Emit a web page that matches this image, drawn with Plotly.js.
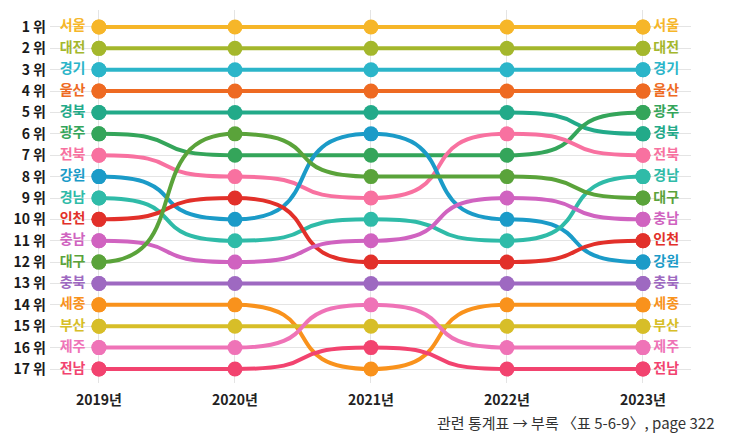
<!DOCTYPE html>
<html><head><meta charset="utf-8">
<script src="https://cdn.plot.ly/plotly-3.0.1.min.js"></script>
<style>html,body{margin:0;padding:0;background:#fff}#chart{width:731px;height:439px}</style>
</head><body><div id="chart"></div>
<script>
const years = [2019, 2020, 2021, 2022, 2023];
const yearLabels = ['2019년', '2020년', '2021년', '2022년', '2023년'];
const rankVals = [1,2,3,4,5,6,7,8,9,10,11,12,13,14,15,16,17];
const rankLabels = ['1 위','2 위','3 위','4 위','5 위','6 위','7 위','8 위','9 위','10 위','11 위','12 위','13 위','14 위','15 위','16 위','17 위'];
const regions = ['서울','대전','경기','울산','경북','광주','전북','강원','경남','인천','충남','대구','충북','세종','부산','제주','전남'];
const colors = ['#F6B629','#A4B72C','#2BB5C9','#EE6A22','#22AA89','#34A55A','#F871A0','#1B9BC8','#2FBBA8','#E2302A','#D063C0','#5AA33A','#9E69C1','#F9921C','#D7BE28','#EF73B7','#F2436F'];
const rank2019 = [1,2,3,4,5,6,7,8,9,10,11,12,13,14,15,16,17];
const rank2020 = [1,2,3,4,5,7,8,10,11,9,12,6,13,14,15,16,17];
const rank2021 = [1,2,3,4,5,7,9,6,10,12,11,8,13,17,15,14,16];
const rank2022 = [1,2,3,4,5,7,6,10,11,12,9,8,13,14,15,16,17];
const rank2023 = [1,2,3,4,6,5,7,12,8,11,10,9,13,14,15,16,17];
const sourceNote = '관련 통계표 → 부록 〈표 5-6-9〉, page 322';

const FONT = '"Noto Sans CJK KR", "Noto Sans", sans-serif';
const rankTable = [rank2019, rank2020, rank2021, rank2022, rank2023];
const A = 0.72;

const shapes = [];
const traces = [];
regions.forEach((name, i) => {
  const r = rankTable.map(col => col[i]);
  let path = 'M ' + years[0] + ',' + r[0];
  for (let k = 0; k < years.length - 1; k++) {
    const x0 = years[k], x1 = years[k + 1], dx = x1 - x0;
    path += ' C ' + (x0 + A * dx) + ',' + r[k] + ' ' + (x1 - A * dx) + ',' + r[k + 1] + ' ' + x1 + ',' + r[k + 1];
  }
  shapes.push({type: 'path', xref: 'x', yref: 'y', path: path, layer: 'between',
    line: {color: colors[i], width: 4}});
  traces.push({x: years, y: r, mode: 'markers', type: 'scatter', hoverinfo: 'skip',
    marker: {color: colors[i], size: 15}, showlegend: false});
});

traces.push({x: regions.map(() => years[0]), y: rank2019, text: regions.map(t => t + ' '),
  mode: 'markers+text', textposition: 'middle left', type: 'scatter', hoverinfo: 'skip',
  marker: {color: colors, size: 15},
  textfont: {family: FONT, size: 14, weight: 'bold', color: colors}, showlegend: false, cliponaxis: false});
traces.push({x: regions.map(() => years[years.length - 1]), y: rank2023, text: regions,
  mode: 'markers+text', textposition: 'middle right', type: 'scatter', hoverinfo: 'skip',
  marker: {color: colors, size: 15},
  textfont: {family: FONT, size: 14, weight: 'bold', color: colors}, showlegend: false, cliponaxis: false});

const layout = {
  width: 731, height: 439,
  margin: {l: 50, r: 40, t: 10, b: 56},
  paper_bgcolor: '#ffffff', plot_bgcolor: '#ffffff',
  font: {family: FONT, color: '#222'},
  xaxis: {range: [2018.64, 2023.353], tickvals: years, ticktext: yearLabels, showgrid: true,
    gridcolor: '#e4e4e4', gridwidth: 1, zeroline: false, showline: false, ticks: '',
    tickfont: {family: FONT, size: 14, weight: 'bold', color: '#222'}, ticklabelstandoff: 7, fixedrange: true},
  yaxis: {range: [17.655, 0.205], tickvals: rankVals, ticktext: rankLabels, showgrid: true,
    gridcolor: '#e4e4e4', gridwidth: 1, zeroline: false, showline: false, ticks: '',
    tickfont: {family: FONT, size: 14, weight: 'bold', color: '#1a1a1a'}, ticklabelstandoff: 3, fixedrange: true},
  shapes: shapes,
  annotations: [{xref: 'paper', yref: 'paper', x: 1.0406, y: -0.107, xanchor: 'right', yanchor: 'middle',
    text: sourceNote, showarrow: false, font: {family: FONT, size: 15, color: '#333'}}]
};

Plotly.newPlot('chart', traces, layout, {displayModeBar: false, staticPlot: true});
</script>
</body></html>
